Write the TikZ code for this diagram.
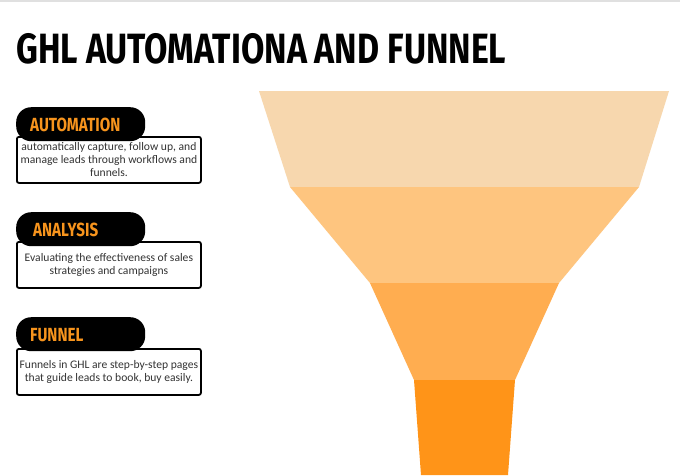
\documentclass[tikz,border=0pt]{standalone}
\usepackage{fontspec}
\setmainfont{Carlito}
\newfontfamily\headfont{Fira Sans}
\usepackage{graphicx}
\definecolor{f1}{HTML}{F7D7AE}
\definecolor{f2}{HTML}{FEC57F}
\definecolor{f3}{HTML}{FFAD50}
\definecolor{f4}{HTML}{FF9418}
\definecolor{lab}{HTML}{F7941D}
\begin{document}
\begin{tikzpicture}[x=1pt,y=-1pt,
  pill/.style={fill=black,rounded corners=15pt,inner sep=0pt,minimum width=129pt,minimum height=34pt,anchor=north west},
  desc/.style={draw=black,line width=1.8pt,rounded corners=2pt,minimum width=184pt,minimum height=46pt,anchor=north west,align=center,font=\fontsize{11.6}{13}\selectfont,inner sep=0.5pt,text=black!80},
  ptxt/.style={text=lab,font=\headfont\bfseries\fontsize{19}{20}\selectfont,anchor=west,inner sep=0pt}]
\useasboundingbox (0,0) rectangle (680,475);
\fill[white] (0,0) rectangle (680,475);
\fill[black!12] (0,0) rectangle (680,2);
\node[anchor=base west,inner sep=0pt] (title) at (16,63) {\resizebox{490pt}{!}{\headfont\bfseries\fontsize{36}{36}\selectfont\scalebox{0.8}[1]{GHL AUTOMATIONA AND FUNNEL}}};
% funnel
\fill[f1] (259,91) -- (669,91) -- (639,187) -- (290,187) -- cycle;
\fill[f2] (290,187) -- (639,187) -- (559,283) -- (370,283) -- cycle;
\fill[f3] (370,283) -- (559,283) -- (515,380) -- (414,380) -- cycle;
\fill[f4] (414,380) -- (515,380) -- (508,475) -- (421,475) -- cycle;
% items
\node[pill] (p1) at (16,107) {};
\node[ptxt] (t1) at (30,125) {\scalebox{0.8}[1]{AUTOMATION}};
\node[desc] (d1) at (16,136) {automatically capture, follow up, and\\manage leads through workflows and\\funnels.};
\node[pill] (p2) at (16,212) {};
\node[ptxt] (t2) at (33,230) {\scalebox{0.8}[1]{ANALYSIS}};
\node[desc] (d2) at (16,241) {Evaluating the effectiveness of sales\\strategies and campaigns};
\node[pill] (p3) at (16,317) {};
\node[ptxt] (t3) at (30,335) {\scalebox{0.8}[1]{FUNNEL}};
\node[desc] (d3) at (16,348) {Funnels in GHL are step-by-step pages\\that guide leads to book, buy easily.};
\end{tikzpicture}
\end{document}
